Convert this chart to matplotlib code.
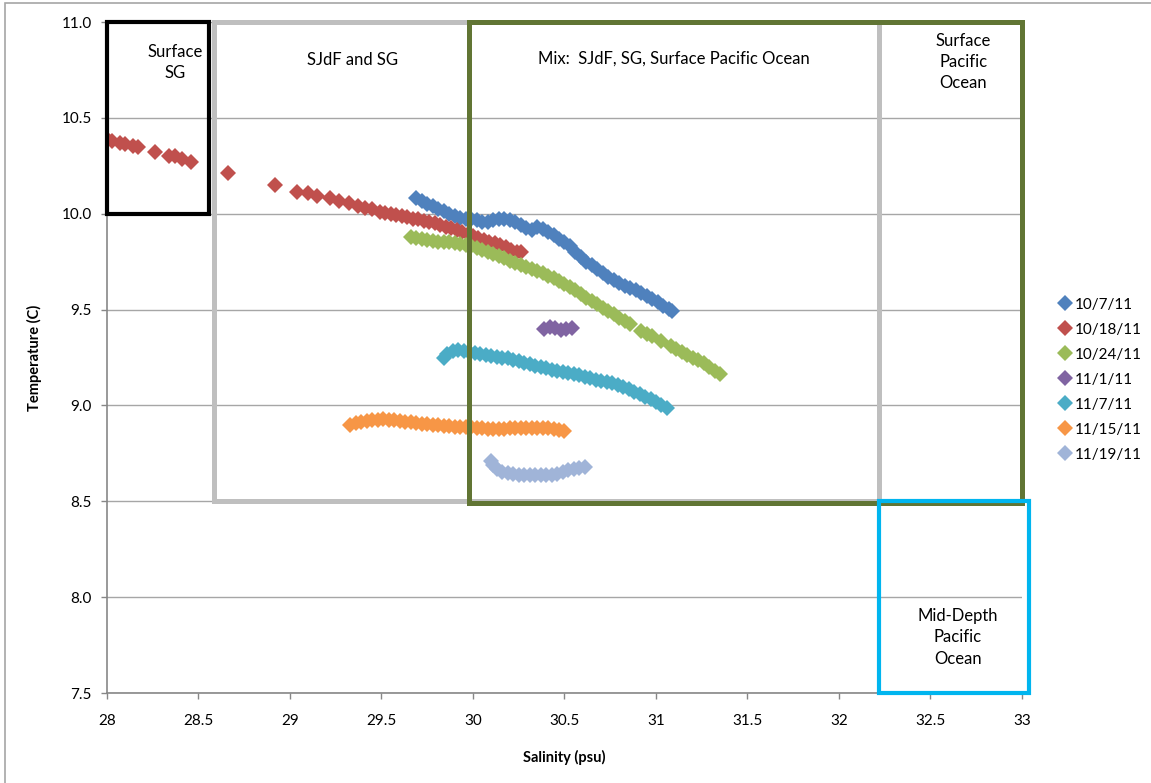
import matplotlib.pyplot as plt
import matplotlib.patches as patches

plt.rcParams['font.family'] = ['Lato', 'DejaVu Sans']

# salinity (psu) / temperature (C), one pair of lists per cast
sal_1007 = [29.69, 29.72, 29.75, 29.78, 29.81, 29.84, 29.87, 29.90, 29.93, 29.96, 29.99,
            30.02, 30.05, 30.08, 30.11, 30.14, 30.17, 30.20, 30.23, 30.26, 30.29, 30.32,
            30.35, 30.38, 30.41, 30.44, 30.47, 30.50, 30.53, 30.56, 30.59, 30.62, 30.65,
            30.68, 30.71, 30.74, 30.77, 30.80, 30.83, 30.86, 30.89, 30.92, 30.95, 30.98,
            31.01, 31.04, 31.07, 31.09]
tmp_1007 = [10.08, 10.065, 10.05, 10.04, 10.025, 10.015, 10.0, 9.99, 9.98, 9.975, 9.97,
            9.965, 9.955, 9.955, 9.965, 9.975, 9.97, 9.965, 9.955, 9.94, 9.925, 9.915,
            9.93, 9.92, 9.905, 9.89, 9.87, 9.855, 9.83, 9.80, 9.775, 9.75, 9.73,
            9.71, 9.69, 9.67, 9.655, 9.64, 9.625, 9.61, 9.60, 9.585, 9.57, 9.555,
            9.54, 9.52, 9.505, 9.49]

sal_1018 = [28.00, 28.03, 28.07, 28.10, 28.14, 28.17, 28.26, 28.34, 28.37, 28.41, 28.46,
            28.66, 28.92, 29.04, 29.10, 29.15, 29.22, 29.27, 29.32, 29.37, 29.41, 29.45,
            29.49, 29.52, 29.55, 29.58, 29.61, 29.64, 29.67, 29.70, 29.73, 29.76, 29.79,
            29.82, 29.85, 29.88, 29.91, 29.94, 29.97, 30.00, 30.03, 30.06, 30.09, 30.12,
            30.15, 30.18, 30.21, 30.24, 30.26]
tmp_1018 = [10.39, 10.38, 10.37, 10.365, 10.355, 10.35, 10.32, 10.30, 10.30, 10.285, 10.27,
            10.21, 10.15, 10.115, 10.11, 10.095, 10.08, 10.065, 10.055, 10.04, 10.03, 10.025,
            10.01, 10.005, 10.0, 9.995, 9.99, 9.985, 9.975, 9.97, 9.96, 9.955, 9.95,
            9.94, 9.93, 9.925, 9.915, 9.905, 9.895, 9.885, 9.875, 9.865, 9.855, 9.845,
            9.835, 9.825, 9.81, 9.80, 9.80]

sal_1024 = [29.66, 29.69, 29.72, 29.75, 29.78, 29.81, 29.84, 29.87, 29.90, 29.93, 29.96,
            29.99, 30.02, 30.05, 30.08, 30.11, 30.14, 30.17, 30.20, 30.23, 30.26, 30.29,
            30.32, 30.35, 30.38, 30.41, 30.44, 30.47, 30.50, 30.53, 30.56, 30.59, 30.62,
            30.65, 30.68, 30.71, 30.74, 30.77, 30.80, 30.83, 30.86, 30.92, 30.95, 30.98,
            31.03, 31.08, 31.11, 31.14, 31.17, 31.20, 31.23, 31.26, 31.29, 31.32, 31.35]
tmp_1024 = [9.88, 9.875, 9.87, 9.865, 9.86, 9.855, 9.85, 9.85, 9.845, 9.84, 9.835,
            9.83, 9.82, 9.81, 9.80, 9.79, 9.78, 9.77, 9.755, 9.745, 9.735, 9.72,
            9.71, 9.70, 9.69, 9.675, 9.665, 9.65, 9.635, 9.62, 9.60, 9.58, 9.56,
            9.545, 9.53, 9.51, 9.49, 9.475, 9.455, 9.44, 9.425, 9.39, 9.375, 9.36,
            9.335, 9.31, 9.295, 9.28, 9.265, 9.25, 9.235, 9.22, 9.20, 9.18, 9.165]

sal_1101 = [30.39, 30.42, 30.45, 30.48, 30.51, 30.54]
tmp_1101 = [9.40, 9.41, 9.405, 9.395, 9.40, 9.405]

sal_1107 = [29.84, 29.86, 29.89, 29.92, 29.95, 29.98, 30.01, 30.04, 30.07, 30.10, 30.13,
            30.16, 30.19, 30.22, 30.25, 30.28, 30.31, 30.34, 30.37, 30.40, 30.43, 30.46,
            30.49, 30.52, 30.55, 30.58, 30.61, 30.64, 30.67, 30.70, 30.73, 30.76, 30.79,
            30.82, 30.85, 30.88, 30.91, 30.94, 30.97, 31.00, 31.03, 31.06]
tmp_1107 = [9.25, 9.27, 9.285, 9.29, 9.285, 9.28, 9.275, 9.27, 9.265, 9.26, 9.255,
            9.25, 9.245, 9.235, 9.23, 9.22, 9.215, 9.205, 9.20, 9.195, 9.185, 9.18,
            9.175, 9.17, 9.165, 9.16, 9.15, 9.145, 9.135, 9.13, 9.12, 9.115, 9.105,
            9.095, 9.085, 9.07, 9.06, 9.045, 9.035, 9.02, 9.00, 8.985]

sal_1115 = [29.33, 29.36, 29.39, 29.42, 29.45, 29.48, 29.51, 29.54, 29.57, 29.60, 29.63,
            29.66, 29.69, 29.72, 29.75, 29.78, 29.81, 29.84, 29.87, 29.90, 29.93, 29.96,
            29.99, 30.02, 30.05, 30.08, 30.11, 30.14, 30.17, 30.20, 30.23, 30.26, 30.29,
            30.32, 30.35, 30.38, 30.41, 30.44, 30.47, 30.50]
tmp_1115 = [8.90, 8.91, 8.915, 8.92, 8.925, 8.925, 8.93, 8.925, 8.925, 8.92, 8.915,
            8.915, 8.91, 8.905, 8.905, 8.90, 8.90, 8.895, 8.895, 8.89, 8.89, 8.885,
            8.885, 8.88, 8.88, 8.875, 8.875, 8.875, 8.875, 8.88, 8.88, 8.88, 8.88,
            8.88, 8.88, 8.88, 8.88, 8.875, 8.87, 8.865]

sal_1119 = [30.10, 30.11, 30.13, 30.16, 30.19, 30.22, 30.25, 30.28, 30.31, 30.34, 30.37,
            30.40, 30.43, 30.46, 30.49, 30.52, 30.55, 30.58, 30.61]
tmp_1119 = [8.71, 8.69, 8.67, 8.655, 8.645, 8.64, 8.635, 8.635, 8.635, 8.635, 8.635,
            8.635, 8.635, 8.64, 8.655, 8.665, 8.67, 8.675, 8.68]

labels = ['10/7/11', '10/18/11', '10/24/11', '11/1/11', '11/7/11', '11/15/11', '11/19/11']
colors = ['#4F81BD', '#C0504D', '#9BBB59', '#8064A2', '#4BACC6', '#F79646', '#A0B4D8']
series = [(sal_1007, tmp_1007), (sal_1018, tmp_1018), (sal_1024, tmp_1024),
          (sal_1101, tmp_1101), (sal_1107, tmp_1107), (sal_1115, tmp_1115),
          (sal_1119, tmp_1119)]

fig = plt.figure(figsize=(11.51, 7.83), dpi=100)
ax = fig.add_axes([107/1151, 90/783, 915/1151, 671/783])

# outer chart frame
fig.patches.append(patches.Rectangle((5/1151, -0.01), 1.02, 1 - 3/783 + 0.01,
                                     transform=fig.transFigure, fill=False,
                                     edgecolor='#A6A6A6', linewidth=1.2))

for (s, t), lab, col in zip(series, labels, colors):
    ax.plot(s, t, linestyle='none', marker='D', markersize=8.5, markeredgewidth=0,
            color=col, label=lab, zorder=3)

# water mass boxes (x0, y0, x1, y1)
boxes = [
    ((28.585, 8.5, 32.22, 11.0), '#BFBFBF', 3.6),
    ((28.0, 10.0, 28.56, 11.0), 'black', 3.0),
    ((29.98, 8.49, 33.0, 11.0), '#617534', 3.6),
    ((32.22, 7.5, 33.04, 8.5), '#00B5EF', 3.0),
]
for (x0, y0, x1, y1), col, lw in boxes:
    ax.add_patch(patches.Rectangle((x0, y0), x1 - x0, y1 - y0, fill=False,
                                   edgecolor=col, linewidth=lw, clip_on=False,
                                   zorder=4))

txt = dict(ha='center', va='center', fontsize=12, linespacing=1.4)
ax.text(28.37, 10.79, 'Surface\nSG', **txt)
ax.text(29.34, 10.80, 'SJdF and SG', **txt)
ax.text(31.10, 10.81, 'Mix:  SJdF, SG, Surface Pacific Ocean', **txt)
ax.text(32.68, 10.79, 'Surface\nPacific\nOcean', **txt)
ax.text(32.65, 7.79, 'Mid-Depth\nPacific\nOcean', **txt)

ax.set_xlim(28, 33)
ax.set_ylim(7.5, 11.0)
ax.set_xticks([28, 28.5, 29, 29.5, 30, 30.5, 31, 31.5, 32, 32.5, 33])
ax.set_xticklabels(['28', '28.5', '29', '29.5', '30', '30.5', '31', '31.5', '32', '32.5', '33'])
ax.set_yticks([7.5, 8.0, 8.5, 9.0, 9.5, 10.0, 10.5, 11.0])
ax.set_yticklabels(['7.5', '8.0', '8.5', '9.0', '9.5', '10.0', '10.5', '11.0'])
ax.tick_params(axis='both', labelsize=11, color='#878787', length=4, width=1)
ax.tick_params(axis='x', pad=11)
ax.tick_params(axis='y', pad=7)
ax.grid(True, axis='y', color='#A6A6A6', linewidth=1)
ax.set_axisbelow(True)
for side in ['top', 'right']:
    ax.spines[side].set_visible(False)
for side in ['left', 'bottom']:
    ax.spines[side].set_color('#878787')
    ax.spines[side].set_linewidth(1.2)

ax.set_xlabel('Salinity (psu)', fontsize=10.5, fontweight='bold', labelpad=16)
ax.set_ylabel('Temperature (C)', fontsize=10.5, fontweight='bold', labelpad=14)

ax.legend(loc='upper left', bbox_to_anchor=(1053/1151, 1 - 290/783),
          bbox_transform=fig.transFigure, frameon=False, fontsize=11,
          handlelength=0.6, handletextpad=0.3, labelspacing=0.72, borderpad=0)

fig.savefig('out.png', dpi=100)
